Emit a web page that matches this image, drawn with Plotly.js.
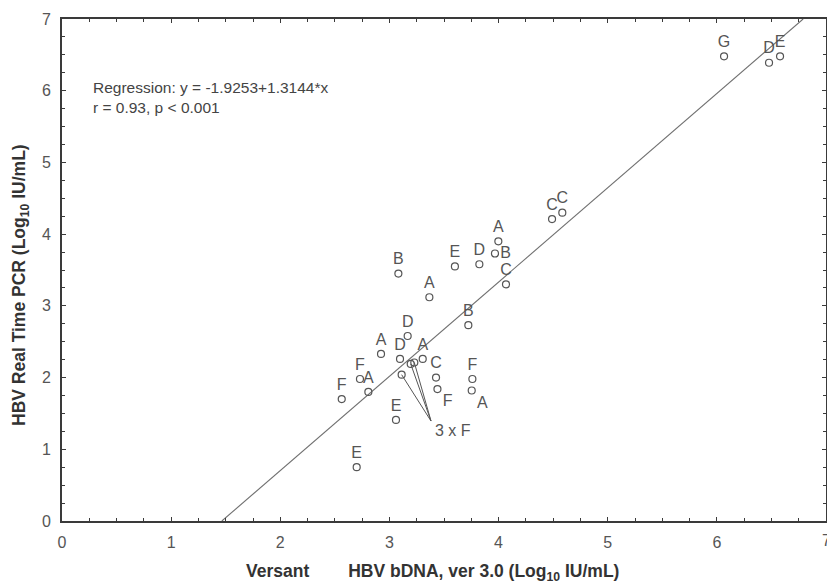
<!DOCTYPE html>
<html>
<head>
<meta charset="utf-8">
<script src="https://cdn.plot.ly/plotly-3.0.1.min.js"></script>
<style>html,body{margin:0;padding:0;background:#fff;}#chart{width:827px;height:584px;}</style>
</head>
<body>
<div id="chart"></div>
<script>
// Labelled points (genotype letters)
const labels = ["F","F","A","E","A","E","B","D","D","A","A","C","F","E","B","A","F","D","B","A","C","C","C","G","D","E"];
const bdna   = [2.563,2.73,2.807,2.70,2.923,3.06,3.082,3.097,3.167,3.305,3.366,3.427,3.44,3.60,3.723,3.754,3.76,3.824,3.967,3.998,4.068,4.49,4.584,6.066,6.478,6.579];
const pcr    = [1.70,1.98,1.80,0.75,2.33,1.41,3.45,2.26,2.58,2.26,3.12,2.00,1.84,3.55,2.73,1.82,1.98,3.58,3.73,3.90,3.30,4.21,4.30,6.48,6.39,6.48];
const labelPos = ["top center","top center","top center","top center","top center","top center","top center","top center","top center","top center","top center","top center","bottom right","top center","top center","bottom right","top center","top center","middle right","top center","top center","top center","top center","top center","top center","top center"];
// Three overlapping genotype F points, labelled together as "3 x F"
const groupLabel = "3 x F";
const groupX = [3.112,3.195,3.228];
const groupY = [2.04,2.19,2.21];
const groupAnchor = [3.381,1.394];
// Regression
const intercept = -1.9253;
const slope = 1.3144;
const statText = ["Regression: y = -1.9253+1.3144*x","r = 0.93, p &lt; 0.001"];
const axisTicks = [0,1,2,3,4,5,6,7];
const xTitle = "Versant\u00a0\u00a0\u00a0\u00a0\u00a0\u00a0\u00a0\u00a0HBV bDNA, ver 3.0 (Log<sub>10</sub> IU/mL)";
const yTitle = "HBV Real Time PCR (Log<sub>10</sub> IU/mL)";

const gray = "#555";
const font = "Liberation Sans, Arial, sans-serif";

// regression line endpoints within the 0..7 y range
const lx = [(0 - intercept)/slope, (7 - intercept)/slope];
const ly = lx.map(x => intercept + slope*x);

const leaderX = [], leaderY = [];
groupX.forEach((x,i) => { leaderX.push(x, groupAnchor[0], null); leaderY.push(groupY[i], groupAnchor[1], null); });

const traces = [
  {x: lx, y: ly, mode: "lines", line: {color: "#707070", width: 1.1}, hoverinfo: "skip"},
  {x: leaderX, y: leaderY, mode: "lines", line: {color: "#555", width: 1}, hoverinfo: "skip"},
  {x: bdna, y: pcr, mode: "markers+text", text: labels, textposition: labelPos,
   textfont: {family: font, size: 16, color: gray},
   marker: {symbol: "circle-open", size: 7, color: gray, line: {width: 1.2, color: gray}}},
  {x: groupX, y: groupY, mode: "markers",
   marker: {symbol: "circle-open", size: 7, color: gray, line: {width: 1.2, color: gray}}}
];

const axisBase = {
  range: [0,7], tickvals: axisTicks, ticktext: axisTicks.map(String),
  showline: true, linecolor: "#3a3a3a", linewidth: 2, mirror: "ticks",
  ticks: "inside", ticklen: 4, tickwidth: 1.2, tickcolor: "#3a3a3a",
  minor: {dtick: 0.25, tick0: 0, ticks: "inside", ticklen: 3, tickwidth: 1, tickcolor: "#3a3a3a"},
  showgrid: false, zeroline: false,
  tickfont: {family: font, size: 16, color: gray},
  ticklabelstandoff: 6,
  fixedrange: true
};

const layout = {
  width: 827, height: 584,
  margin: {l: 62, r: 1, t: 19, b: 63},
  paper_bgcolor: "#fff", plot_bgcolor: "#fff",
  showlegend: false,
  font: {family: font, color: "#333"},
  xaxis: Object.assign({}, axisBase),
  yaxis: Object.assign({}, axisBase),
  annotations: [
    {x: 0.27, y: 6.19, xref: "x", yref: "y", xanchor: "left", yanchor: "top", align: "left",
     showarrow: false, text: statText.join("<br>"), font: {family: font, size: 15.5, color: "#444"}},
    {x: groupAnchor[0] + 0.02, y: groupAnchor[1] - 0.13, xref: "x", yref: "y", xanchor: "left", yanchor: "middle",
     showarrow: false, text: groupLabel, font: {family: font, size: 16, color: gray}},
    // right-most x tick label, half cut by the page edge as in the source
    {x: 7, y: 0, xref: "x", yref: "y", yshift: -19, xanchor: "center", yanchor: "middle",
     showarrow: false, text: String(axisTicks[7]), font: {family: font, size: 16, color: gray}},
    // axis titles
    {x: (432 - 62) / 764, y: -0.102, xref: "paper", yref: "paper", xanchor: "center", yanchor: "middle",
     showarrow: false, text: "<b>" + xTitle + "</b>", font: {family: font, size: 17.5, color: "#333"}},
    {x: (20 - 62) / 764, y: (521 - 285) / 502, xref: "paper", yref: "paper", xanchor: "center", yanchor: "middle",
     textangle: -90, showarrow: false, text: "<b>" + yTitle + "</b>", font: {family: font, size: 17.5, color: "#333"}}
  ]
};

Plotly.newPlot("chart", traces, layout, {staticPlot: true, displayModeBar: false});
</script>
</body>
</html>
